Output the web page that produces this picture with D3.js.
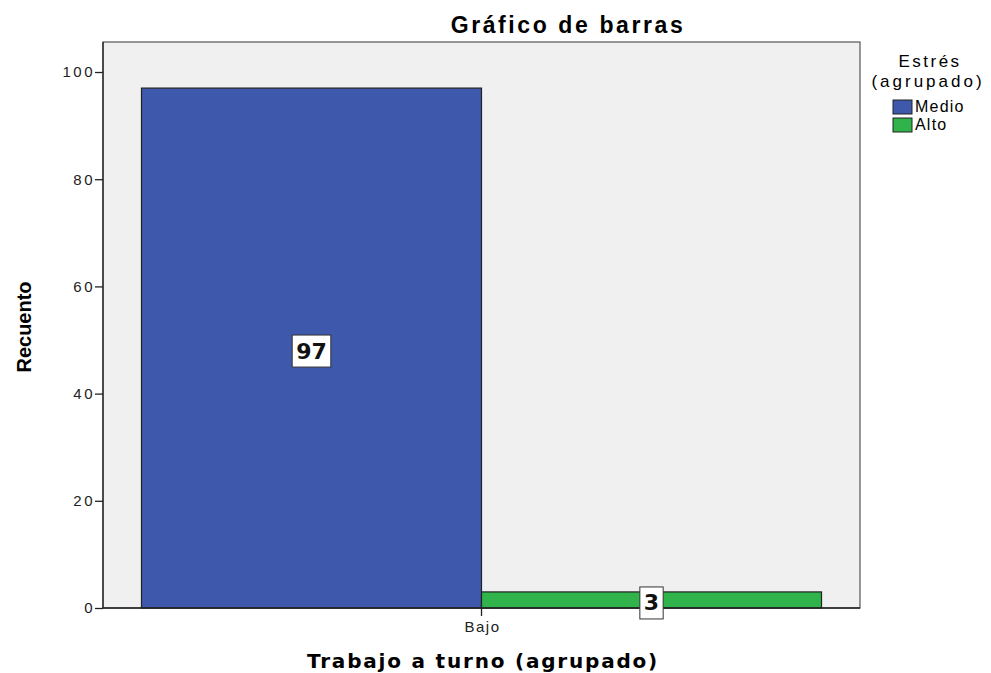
<!DOCTYPE html>
<html>
<head>
<meta charset="utf-8">
<script src="https://cdn.jsdelivr.net/npm/d3@7"></script>
<style>
  body { margin: 0; background: #fff; }
  svg { display: block; }
</style>
</head>
<body>
<svg id="chart" width="991" height="673"></svg>
<script>
// data
var categories = ['Bajo']
var seriesNames = ['Medio', 'Alto']
var seriesValues = [97, 3]
var seriesColors = ['#3e58ac', '#2fb34a']
var yTicks = [0, 20, 40, 60, 80, 100]

var ctx = { left: 103, top: 42, right: 860, bottom: 608 }

var svg = d3.select('#chart')

var y = d3.scaleLinear().domain([0, 105.6]).range([ctx.bottom, ctx.top])
var x = d3.scaleBand().domain(categories).range([ctx.left, ctx.right]).paddingInner(0).paddingOuter(0.0566)
var xs = d3.scaleBand().domain(seriesNames).range([0, x.bandwidth()])

// plot background
svg.append('rect')
   .attr('x', ctx.left)
   .attr('y', ctx.top)
   .attr('width', ctx.right - ctx.left)
   .attr('height', ctx.bottom - ctx.top)
   .style('fill', '#f0f0f0')
   .style('stroke', '#555')
   .style('stroke-width', 1.2)

// bars
var g = svg.append('g')
categories.forEach(function (c) {
  seriesNames.forEach(function (s, i) {
    g.append('rect')
     .attr('x', x(c) + xs(s))
     .attr('y', y(seriesValues[i]))
     .attr('width', xs.bandwidth())
     .attr('height', y(0) - y(seriesValues[i]))
     .style('fill', seriesColors[i])
     .style('stroke', '#222')
     .style('stroke-width', 1.2)
  })
})

// axes
var yAxis = svg.append('g')
   .attr('transform', 'translate(' + ctx.left + ',0)')
   .call(d3.axisLeft(y).tickValues(yTicks).tickSize(8).tickPadding(0))
yAxis.select('.domain').attr('d', 'M0,' + ctx.top + 'V' + ctx.bottom).style('stroke', '#222').style('stroke-width', 1.3)
yAxis.selectAll('line').style('stroke', '#222').style('stroke-width', 1.3)
yAxis.selectAll('text')
     .attr('font-family', 'Liberation Sans, Arial, sans-serif')
     .attr('font-size', 15)
     .style('fill', '#222')
     .style('letter-spacing', '2.5px')

var xAxis = svg.append('g')
   .attr('transform', 'translate(0,' + ctx.bottom + ')')
   .call(d3.axisBottom(x).tickSize(8).tickPadding(5))
xAxis.select('.domain').attr('d', 'M' + ctx.left + ',0H' + ctx.right).style('stroke', '#222').style('stroke-width', 1.3)
xAxis.selectAll('line').style('stroke', '#222').style('stroke-width', 1.3)
xAxis.selectAll('text')
     .attr('font-family', 'Liberation Sans, Arial, sans-serif')
     .attr('font-size', 15)
     .attr('dx', 1)
     .style('fill', '#222')
     .style('letter-spacing', '1.5px')

// value labels
categories.forEach(function (c) {
  seriesNames.forEach(function (s, i) {
    var cx = x(c) + xs(s) + xs.bandwidth() / 2
    var cy = (y(seriesValues[i]) + y(0)) / 2 + 3
    var lbl = svg.append('g')
    var t = lbl.append('text')
       .attr('x', cx)
       .attr('y', cy)
       .attr('text-anchor', 'middle')
       .attr('dominant-baseline', 'central')
       .attr('font-family', 'DejaVu Sans, Verdana, sans-serif')
       .attr('font-weight', 'bold')
       .attr('font-size', 22)
       .style('fill', '#111')
       .text(seriesValues[i])
    var bb = t.node().getBBox()
    lbl.insert('rect', 'text')
       .attr('x', bb.x - 4)
       .attr('y', cy - 16)
       .attr('width', bb.width + 8)
       .attr('height', 32)
       .style('fill', '#fff')
       .style('stroke', '#333')
       .style('stroke-width', 1)
  })
})

// titles
svg.append('text')
   .attr('x', 568)
   .attr('y', 33)
   .attr('text-anchor', 'middle')
   .attr('font-family', 'Liberation Sans, Arial, sans-serif')
   .attr('font-weight', 'bold')
   .attr('font-size', 23)
   .style('letter-spacing', '2.6px')
   .text('Gráfico de barras')

svg.append('text')
   .attr('x', 483)
   .attr('y', 668)
   .attr('text-anchor', 'middle')
   .attr('font-family', 'DejaVu Sans, Verdana, sans-serif')
   .attr('font-weight', 'bold')
   .attr('font-size', 20)
   .style('letter-spacing', '1.8px')
   .text('Trabajo a turno (agrupado)')

svg.append('text')
   .attr('transform', 'translate(31,327) rotate(-90)')
   .attr('text-anchor', 'middle')
   .attr('font-family', 'Liberation Sans, Arial, sans-serif')
   .attr('font-weight', 'bold')
   .attr('font-size', 20)
   .text('Recuento')

// legend
var legend = svg.append('g').attr('id', 'legend')
legend.append('text')
      .attr('x', 930)
      .attr('y', 67)
      .attr('text-anchor', 'middle')
      .attr('font-family', 'Liberation Sans, Arial, sans-serif')
      .attr('font-size', 17)
      .style('letter-spacing', '2.5px')
      .text('Estrés')
legend.append('text')
      .attr('x', 928)
      .attr('y', 87)
      .attr('text-anchor', 'middle')
      .attr('font-family', 'Liberation Sans, Arial, sans-serif')
      .attr('font-size', 17)
      .style('letter-spacing', '3px')
      .text('(agrupado)')

seriesNames.forEach(function (s, i) {
  var top = 100 + i * 18
  legend.append('rect')
        .attr('x', 893)
        .attr('y', top)
        .attr('width', 19)
        .attr('height', 14)
        .style('fill', seriesColors[i])
        .style('stroke', '#222')
        .style('stroke-width', 1)
  legend.append('text')
        .attr('x', 915)
        .attr('y', top + 12)
        .attr('font-family', 'Liberation Sans, Arial, sans-serif')
        .attr('font-size', 16)
        .style('letter-spacing', '1.2px')
        .text(s)
})
</script>
</body>
</html>
